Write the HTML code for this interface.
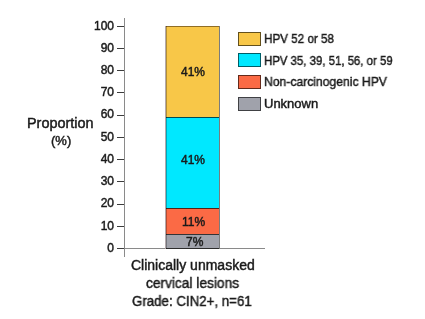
<!DOCTYPE html>
<html><head><meta charset="utf-8">
<style>
html,body{margin:0;padding:0;background:#fff;width:425px;height:319px;overflow:hidden;position:relative}
body{font-family:"Liberation Sans",sans-serif;color:#231f20}
.t,.yl{will-change:transform;-webkit-text-stroke:0.45px #1a1a1a;color:#1a1a1a}
.t{position:absolute;white-space:nowrap;line-height:1;transform-origin:0 0}
.ax{position:absolute;background:#8a8a8a}
.tk{position:absolute;background:#3c3c3c;height:1px;width:7px;left:117px}
.yl{position:absolute;font-size:12px;line-height:12px;text-align:right;width:40px;left:74px;white-space:nowrap}
.bar{position:absolute;left:165px;width:55px}
.b{position:absolute;left:0;width:55px;background:rgba(0,0,0,0.68);height:1px}
.bs{position:absolute;top:0;width:1px;height:223px;background:rgba(0,0,0,0.5)}
.lb{position:absolute;left:238px;width:23px;height:14px;box-sizing:border-box;border:1px solid rgba(0,0,0,0.6)}
</style></head><body>
<!-- y axis -->
<div class="ax" style="left:124px;top:18px;width:1px;height:239px"></div>
<!-- x axis -->
<div class="ax" style="left:124px;top:248px;width:141px;height:1px"></div>

<div class="tk" style="top:26px"></div>
<div class="tk" style="top:48px"></div>
<div class="tk" style="top:70px"></div>
<div class="tk" style="top:92px"></div>
<div class="tk" style="top:115px"></div>
<div class="tk" style="top:137px"></div>
<div class="tk" style="top:159px"></div>
<div class="tk" style="top:181px"></div>
<div class="tk" style="top:204px"></div>
<div class="tk" style="top:226px"></div>
<div class="tk" style="top:248px"></div>

<div class="yl" style="top:20px">100</div>
<div class="yl" style="top:42px">90</div>
<div class="yl" style="top:64px">80</div>
<div class="yl" style="top:86px">70</div>
<div class="yl" style="top:108px">60</div>
<div class="yl" style="top:131px">50</div>
<div class="yl" style="top:153px">40</div>
<div class="yl" style="top:175px">30</div>
<div class="yl" style="top:197px">20</div>
<div class="yl" style="top:220px">10</div>
<div class="yl" style="top:242px">0</div>

<!-- bar -->
<div class="bar" style="top:26px;height:223px">
  <div style="position:absolute;left:0;top:0;width:55px;height:91px;background:#f8c748"></div>
  <div style="position:absolute;left:0;top:91px;width:55px;height:91px;background:#00e8ff"></div>
  <div style="position:absolute;left:0;top:182px;width:55px;height:26px;background:#fb6a45"></div>
  <div style="position:absolute;left:0;top:208px;width:55px;height:14px;background:#a0a2ab"></div>
  <div class="b" style="top:0;background:rgba(40,20,0,0.5)"></div>
  <div class="b" style="top:91px"></div>
  <div class="b" style="top:182px"></div>
  <div class="b" style="top:208px"></div>
  <div class="b" style="top:222px"></div>
  <div class="bs" style="left:0;background:#b3a9ac"></div>
  <div class="bs" style="left:1px;background:rgba(0,0,0,0.28)"></div>
  <div class="bs" style="left:54px;background:#7a7c7c"></div>
</div>

<div class="t" style="left:181px;top:66px;font-size:12px">41%</div>
<div class="t" style="left:181px;top:154px;font-size:12px">41%</div>
<div class="t" style="left:182px;top:216px;font-size:12px">11%</div>
<div class="t" style="left:186px;top:236px;font-size:12px">7%</div>

<!-- legend -->
<div class="lb" style="top:32px;background:#f8c748"></div>
<div class="lb" style="top:53px;background:#00e8ff"></div>
<div class="lb" style="top:75px;background:#fb6a45"></div>
<div class="lb" style="top:97px;background:#a0a2ab"></div>
<div class="t" style="left:264px;top:32px;font-size:13px;transform:scaleX(0.897)">HPV 52 or 58</div>
<div class="t" style="left:264px;top:54px;font-size:13px;transform:scaleX(0.877)">HPV 35, 39, 51, 56, or 59</div>
<div class="t" style="left:264px;top:75px;font-size:13px;transform:scaleX(0.935)">Non-carcinogenic HPV</div>
<div class="t" style="left:264px;top:97px;font-size:13px">Unknown</div>

<!-- axis title -->
<div class="t" style="left:27px;top:116px;font-size:14px;transform:scaleX(1.03)">Proportion</div>
<div class="t" style="left:51px;top:134px;font-size:13px">(%)</div>

<!-- x label -->
<div class="t" style="left:131px;top:258px;font-size:14px">Clinically unmasked</div>
<div class="t" style="left:146px;top:276px;font-size:14px;transform:scaleX(0.98)">cervical lesions</div>
<div class="t" style="left:132px;top:294px;font-size:14px;transform:scaleX(0.95)">Grade: CIN2+, n=61</div>
</body></html>
